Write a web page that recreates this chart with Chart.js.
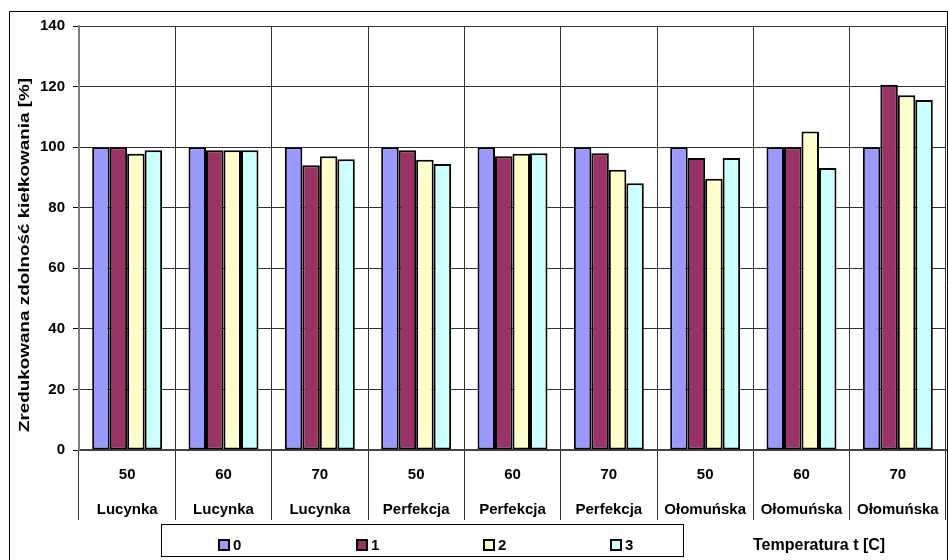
<!DOCTYPE html>
<html>
<head>
<meta charset="utf-8">
<script src="https://cdn.jsdelivr.net/npm/chart.js@4/dist/chart.umd.min.js"></script>
<style>
  html, body { margin: 0; padding: 0; background: #ffffff; }
  #wrap { width: 948px; height: 560px; position: relative; }
</style>
</head>
<body>
<div id="wrap"><canvas id="chart" width="948" height="560"></canvas></div>
<script>
// Category levels: temperature (upper row) and variety (lower row)
const temperatures = ['50', '60', '70', '50', '60', '70', '50', '60', '70'];
const varieties = ['Lucynka', 'Lucynka', 'Lucynka', 'Perfekcja', 'Perfekcja', 'Perfekcja', 'Ołomuńska', 'Ołomuńska', 'Ołomuńska'];

// Reduced germination capacity [%] per series
const series0 = [100, 100, 100, 100, 100, 100, 100, 100, 100];
const series1 = [100, 99, 94, 99, 97, 98, 96.4, 100, 120.6];
const series2 = [97.8, 99, 97, 95.8, 97.8, 92.5, 89.6, 105.2, 117.1];
const series3 = [99, 99, 96, 94.4, 98, 88.1, 96.4, 93.1, 115.6];

const seriesNames = ['0', '1', '2', '3'];
const seriesColors = ['#9999FF', '#993366', '#FFFFCC', '#CCFFFF'];

const yMin = 0, yMax = 140, yStep = 20;
const yTitle = 'Zredukowana zdolność kiełkowania [%]';
const xTitle = 'Temperatura t [C]';

const FONT = '"Liberation Sans", Arial, sans-serif';

const labels = temperatures.map((t, i) => [t, varieties[i]]);
const allSeries = [series0, series1, series2, series3];

const datasets = allSeries.map((vals, i) => ({
  label: seriesNames[i],
  data: vals,
  backgroundColor: seriesColors[i],
  borderColor: '#000000',
  borderWidth: 2,
  borderSkipped: false,
  categoryPercentage: 0.726,
  barPercentage: 1.0
}));

// Frame, rotated axis title, boxed legend and temperature caption
const decorations = {
  id: 'decorations',
  afterDraw(chart) {
    const ctx = chart.ctx;
    ctx.save();

    // outer chart frame
    ctx.strokeStyle = '#000000';
    ctx.lineWidth = 1;
    ctx.beginPath();
    ctx.moveTo(9.5, 570);
    ctx.lineTo(9.5, 11.5);
    ctx.lineTo(947.5, 11.5);
    ctx.lineTo(947.5, 570);
    ctx.stroke();

    // vertical axis title
    ctx.font = 'bold 15px ' + FONT;
    ctx.fillStyle = '#000000';
    ctx.textAlign = 'center';
    ctx.textBaseline = 'middle';
    const w = ctx.measureText(yTitle).width;
    ctx.save();
    ctx.translate(25, 255);
    ctx.rotate(-Math.PI / 2);
    ctx.scale(354 / w, 1);
    ctx.fillText(yTitle, 0, 0);
    ctx.restore();

    // legend box
    ctx.strokeStyle = '#000000';
    ctx.lineWidth = 1;
    ctx.strokeRect(161.5, 524.5, 522, 32);
    const itemX = [218, 356, 483, 610];
    ctx.font = 'bold 15px ' + FONT;
    ctx.textAlign = 'left';
    ctx.textBaseline = 'middle';
    chart.data.datasets.forEach((ds, i) => {
      const x = itemX[i];
      ctx.fillStyle = ds.backgroundColor;
      ctx.fillRect(x + 1, 540, 10, 10);
      ctx.lineWidth = 2;
      ctx.strokeStyle = '#000000';
      ctx.strokeRect(x + 1, 540, 10, 10);
      ctx.fillStyle = '#000000';
      ctx.fillText(ds.label, x + 15, 545.5);
    });

    // temperature caption
    ctx.font = 'bold 16px ' + FONT;
    ctx.textAlign = 'left';
    ctx.fillText(xTitle, 753, 545.5);

    ctx.restore();
  }
};

new Chart(document.getElementById('chart'), {
  type: 'bar',
  data: { labels, datasets },
  options: {
    responsive: false,
    animation: false,
    devicePixelRatio: 1,
    layout: { padding: { top: 26, right: 2, left: 0, bottom: 0 } },
    plugins: {
      legend: { display: false },
      tooltip: { enabled: false }
    },
    scales: {
      x: {
        offset: true,
        grid: {
          offset: true,
          color: '#333333',
          lineWidth: 1,
          drawTicks: true,
          tickLength: 70
        },
        border: { display: true, color: '#444444', width: 2 },
        ticks: {
          color: '#000000',
          font: { family: FONT, size: 15, weight: 'bold', lineHeight: 35 / 15 },
          padding: -62.5,
          maxRotation: 0,
          minRotation: 0,
          autoSkip: false
        },
        afterFit(scale) { scale.height = 110; }
      },
      y: {
        min: yMin,
        max: yMax,
        ticks: {
          stepSize: yStep,
          color: '#000000',
          font: { family: FONT, size: 15, weight: 'bold' },
          padding: 8
        },
        grid: {
          color: '#333333',
          lineWidth: 1,
          drawTicks: true,
          tickLength: 6,
          tickColor: '#000000'
        },
        border: { display: true, color: '#808080', width: 2 },
        afterFit(scale) { scale.width = 79; }
      }
    }
  },
  plugins: [decorations]
});
</script>
</body>
</html>
